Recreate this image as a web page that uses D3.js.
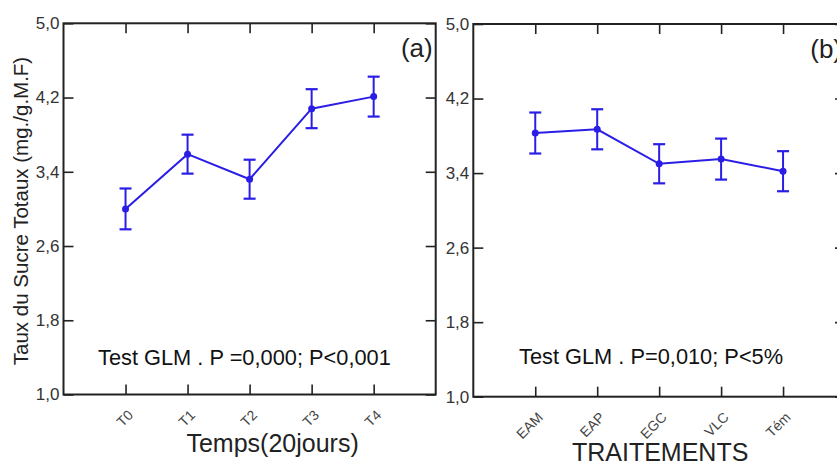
<!DOCTYPE html>
<html>
<head>
<meta charset="utf-8">
<script src="https://cdn.jsdelivr.net/npm/d3@7"></script>
<style>
  html, body { margin: 0; padding: 0; background: #fff; }
  svg { display: block; }
  text { font-family: "Liberation Sans", Arial, sans-serif; }
</style>
</head>
<body>
<svg id="chart" width="837" height="464"></svg>
<script>
// ---- Data ----
const yTicks = [1.0, 1.8, 2.6, 3.4, 4.2, 5.0];

const catsA = ["T0", "T1", "T2", "T3", "T4"];
const meanA = [3.00, 3.59, 3.32, 4.08, 4.21];
const errA  = [0.22, 0.21, 0.21, 0.21, 0.215];

const catsB = ["EAM", "EAP", "EGC", "VLC", "Tém"];
const meanB = [3.83, 3.87, 3.50, 3.55, 3.42];
const errB  = [0.22, 0.215, 0.21, 0.22, 0.215];

const panelLabels = ["(a)", "(b)"];
const xTitles = ["Temps(20jours)", "TRAITEMENTS"];
const notes = ["Test GLM . P =0,000; P<0,001", "Test GLM . P=0,010; P<5%"];
const yTitle = "Taux du Sucre Totaux (mg./g.M.F)";

// ---- Drawing ----
const svg = d3.select("#chart");
const blue = "#2a1ee6";
const fmt = d => d3.format(".1f")(d).replace(".", ",");

const panels = [
  { cats: catsA, mean: meanA, err: errA, left: 63.5, right: 435.7, top: 23.3, bottom: 394.5,
    label: panelLabels[0], xTitle: xTitles[0], note: notes[0], titleDx: 23, titleY: 452, noteX: 98, noteY: 365 },
  { cats: catsB, mean: meanB, err: errB, left: 473.3, right: 845, top: 24, bottom: 396.7,
    label: panelLabels[1], xTitle: xTitles[1], note: notes[1], titleDx: 1, titleY: 461, noteX: 519, noteY: 363.5 }
];

panels.forEach(p => {
  const x = d3.scalePoint().domain(p.cats).range([p.left, p.right]).padding(1);
  const y = d3.scaleLinear().domain([1.0, 5.0]).range([p.bottom, p.top]);
  const g = svg.append("g");
  const tl = 10;

  // frame
  g.append("rect")
    .attr("x", p.left).attr("y", p.top)
    .attr("width", p.right - p.left).attr("height", p.bottom - p.top)
    .attr("fill", "none").attr("stroke", "#222").attr("stroke-width", 2);

  // left axis (inward ticks) with labels
  const leftAxis = d3.axisLeft(y).tickValues(yTicks).tickSize(-tl).tickPadding(4).tickFormat(fmt);
  const la = g.append("g").attr("transform", `translate(${p.left},0)`).call(leftAxis);
  la.select(".domain").remove();
  la.selectAll("line").attr("stroke", "#222").attr("stroke-width", 1.6);
  la.selectAll("text").attr("font-size", 17).attr("fill", "#333")
    .attr("font-family", "'Liberation Sans', Arial, sans-serif");

  // right axis (inward ticks, no labels)
  const rightAxis = d3.axisRight(y).tickValues(yTicks).tickSize(-tl).tickFormat("");
  const ra = g.append("g").attr("transform", `translate(${p.right},0)`).call(rightAxis);
  ra.select(".domain").remove();
  ra.selectAll("line").attr("stroke", "#222").attr("stroke-width", 1.6);

  // top axis (inward ticks)
  const topAxis = d3.axisTop(x).tickSize(-tl).tickFormat("");
  const ta = g.append("g").attr("transform", `translate(0,${p.top})`).call(topAxis);
  ta.select(".domain").remove();
  ta.selectAll("line").attr("stroke", "#222").attr("stroke-width", 1.6);

  // bottom axis (inward ticks), rotated labels
  const botAxis = d3.axisBottom(x).tickSize(-tl).tickFormat("");
  const ba = g.append("g").attr("transform", `translate(0,${p.bottom})`).call(botAxis);
  ba.select(".domain").remove();
  ba.selectAll("line").attr("stroke", "#222").attr("stroke-width", 1.6);

  g.selectAll(".xlab").data(p.cats).enter().append("text")
    .attr("class", "xlab")
    .attr("transform", d => `translate(${x(d) + 5},${p.bottom + 18}) rotate(-45)`)
    .attr("text-anchor", "end")
    .attr("dy", "0.35em")
    .attr("font-size", 14)
    .attr("fill", "#444")
    .text(d => d);

  // connecting line
  const data = p.cats.map((c, i) => ({ c, m: p.mean[i], e: p.err[i] }));
  g.append("path")
    .datum(data)
    .attr("d", d3.line().x(d => x(d.c)).y(d => y(d.m)))
    .attr("fill", "none").attr("stroke", blue).attr("stroke-width", 2);

  // error bars
  const cap = 6;
  const eb = g.selectAll(".eb").data(data).enter().append("g").attr("class", "eb");
  eb.append("line")
    .attr("x1", d => x(d.c)).attr("x2", d => x(d.c))
    .attr("y1", d => y(d.m + d.e)).attr("y2", d => y(d.m - d.e))
    .attr("stroke", blue).attr("stroke-width", 2);
  eb.append("line")
    .attr("x1", d => x(d.c) - cap).attr("x2", d => x(d.c) + cap)
    .attr("y1", d => y(d.m + d.e)).attr("y2", d => y(d.m + d.e))
    .attr("stroke", blue).attr("stroke-width", 2.2);
  eb.append("line")
    .attr("x1", d => x(d.c) - cap).attr("x2", d => x(d.c) + cap)
    .attr("y1", d => y(d.m - d.e)).attr("y2", d => y(d.m - d.e))
    .attr("stroke", blue).attr("stroke-width", 2.2);
  eb.append("circle")
    .attr("cx", d => x(d.c)).attr("cy", d => y(d.m)).attr("r", 3.5)
    .attr("fill", blue);

  // panel label
  g.append("text")
    .attr("x", p.right - 3).attr("y", p.top + 34)
    .attr("text-anchor", "end")
    .attr("font-size", 26).attr("fill", "#222")
    .text(p.label);

  // annotation
  g.append("text")
    .attr("x", p.noteX).attr("y", p.noteY)
    .attr("font-size", 21.8).attr("fill", "#111")
    .text(p.note);

  // x title
  g.append("text")
    .attr("x", (p.left + p.right) / 2 + p.titleDx).attr("y", p.titleY)
    .attr("text-anchor", "middle")
    .attr("font-size", 25).attr("fill", "#222")
    .text(p.xTitle);
});

// y title
svg.append("text")
  .attr("transform", "translate(28,211) rotate(-90)")
  .attr("text-anchor", "middle")
  .attr("font-size", 20.5).attr("fill", "#222")
  .text(yTitle);
</script>
</body>
</html>
